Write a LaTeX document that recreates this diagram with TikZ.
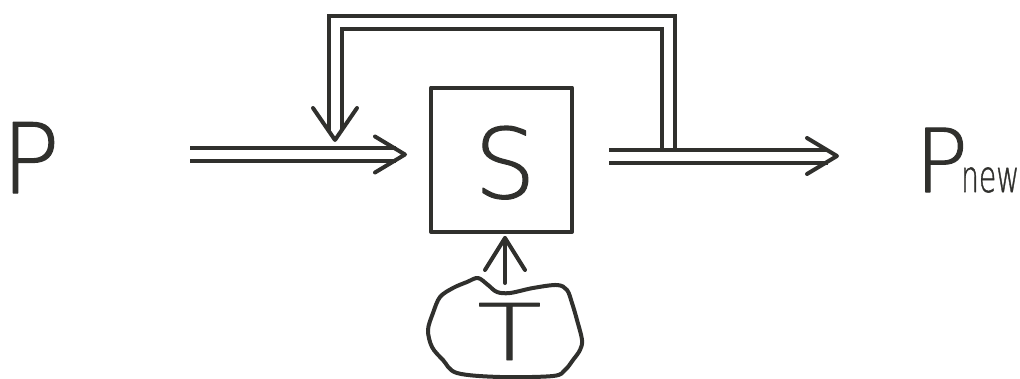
\documentclass[tikz,border=0pt]{standalone}
\usepackage{fontspec}
\usepackage{graphicx}
\newfontfamily\handfont{DejaVu Sans ExtraLight}[RawFeature={embolden=1.2}]
\usetikzlibrary{calc}
\definecolor{ink}{RGB}{48,48,45}
\begin{document}
\begin{tikzpicture}[x=1pt,y=-1pt,
  line width=4pt, draw=ink, line join=round, line cap=round,
  twin/.style={double=white, double distance=9pt, line cap=butt, line join=miter},
  barb/.style={line cap=round, line join=round},
  lbl/.style={font=\handfont, text=ink, inner sep=0pt, anchor=base},
  block/.style={draw=ink, minimum width=141pt, minimum height=144.5pt, inner sep=0pt}]
\useasboundingbox (0,0) rectangle (1020,378);

% system block and labels
\node[block] (S) at (501.5,159.75) {};
\node[lbl, font=\handfont\fontsize{97}{97}\selectfont] (Slbl) at (505,198) {S};
\node[lbl, font=\handfont\fontsize{97}{97}\selectfont] (P) at (30.5,193) {P};
\node[lbl, anchor=base west] (Pnew) at (913,192)
  {\fontsize{88}{88}\selectfont P\kern-7pt\fontsize{44}{44}\selectfont\scalebox{0.64}[1]{new}};

% environment cloud with T
\draw[ink, line width=4pt] plot[smooth cycle, tension=0.55] coordinates {
  (478,278) (488,285) (497,292) (510,293) (533,288) (557,285) (567,290)
  (572,303) (577,320) (582,340) (580,350) (573,360) (565,370) (553,376)
  (500,377) (457,373) (443,360) (432,347) (428,330) (433,313) (440,297)
  (453,288) (467,282)};
\node[lbl, font=\handfont\fontsize{78}{78}\selectfont] (T) at (509.5,360) {\scalebox{1.35}[1]{T}};

% named ends of the connectors
\coordinate (inStart) at (190,154.5);
\coordinate (inTip) at ($(S.west|-inStart)+(-24,0)$);
\coordinate (outStart) at ($(S.east)+(35,-3.75)$);
\coordinate (outTip) at (837,156);
\coordinate (fbStart) at (668,148);
\coordinate (fbTip) at (335,140);
\coordinate (cloudTop) at (505,283);
\coordinate (upTip) at ($(cloudTop|-S.south)+(0,4)$);

% input double arrow
\draw[twin] (inStart) -- ($(inTip)+(-9,0)$);
\draw[barb] ($(inTip)+(-30,-18)$) -- (inTip) -- ($(inTip)+(-30,18)$);

% output double arrow
\draw[twin] (outStart) -- ($(outTip)+(-9,0)$);
\draw[barb] ($(outTip)+(-30,-18)$) -- (outTip) -- ($(outTip)+(-30,18)$);

% feedback loop
\draw[twin] (fbStart) -- (fbStart|-0,22) -- (fbTip|-0,22) -- ($(fbTip)+(0,-9)$);
\draw[barb] ($(fbTip)+(-22,-32)$) -- (fbTip) -- ($(fbTip)+(22,-32)$);

% environment influence
\draw[barb] (cloudTop) -- (upTip);
\draw[barb] ($(upTip)+(-20,32)$) -- (upTip) -- ($(upTip)+(20,32)$);
\end{tikzpicture}
\end{document}
